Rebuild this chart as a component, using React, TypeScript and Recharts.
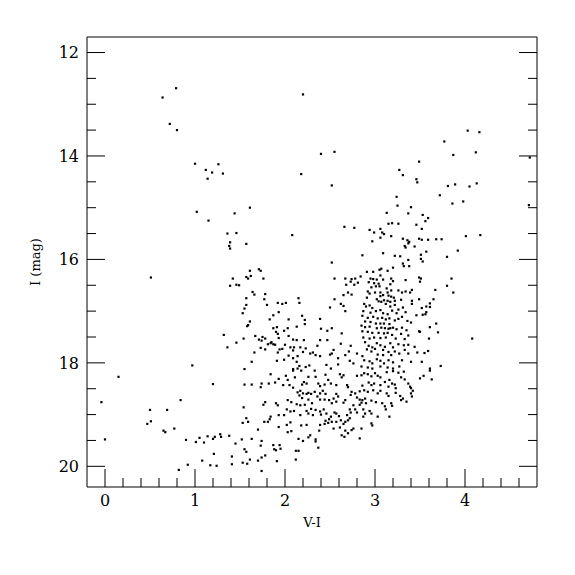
import React from 'react';
import { ScatterChart, Scatter, XAxis, YAxis } from 'recharts';

type P = [number, number];

// V-I, I (mag) pairs, grouped by region
const brightBlue: P[] = [
  [0.79,12.69],[0.64,12.87],[0.72,13.38],[0.80,13.50],[1.00,14.15],[1.26,14.16],[1.12,14.27],[1.19,14.32],[1.31,14.34],[1.14,14.44],
  [1.02,15.08],[1.44,15.11],[1.15,15.25],[1.36,15.50],[1.46,15.49],[1.39,15.67],[1.38,15.74],[1.39,15.79],
];
const brightMid: P[] = [
  [2.20,12.81],[2.40,13.96],[2.55,13.92],[2.18,14.35],[2.52,14.57],[1.61,15.00],[3.13,15.10],[2.66,15.37],[2.77,15.39],[2.94,15.43],
  [3.06,15.41],[2.99,15.48],[3.08,15.48],[3.10,15.51],[3.06,15.58],[2.97,15.65],[2.08,15.53],[1.57,15.70],
];
const brightRed: P[] = [
  [4.03,13.51],[4.16,13.54],[3.77,13.72],[3.87,13.98],[4.12,13.93],[4.72,14.03],[3.49,14.11],[3.27,14.27],[3.31,14.37],[3.46,14.45],
  [3.47,14.51],[3.81,14.58],[3.89,14.55],[4.05,14.59],[4.13,14.53],[3.72,14.76],[3.24,14.79],[3.25,14.96],[3.40,14.99],[3.86,14.92],
  [3.98,14.88],[4.71,14.95],[3.37,15.11],[3.53,15.14],[3.59,15.20],[3.56,15.26],[3.46,15.33],[3.52,15.41],[3.15,15.31],[3.19,15.30],
  [3.26,15.31],[3.18,15.55],[3.31,15.60],[3.36,15.63],[3.38,15.66],[3.37,15.69],[3.33,15.74],[3.34,15.77],[3.44,15.75],[3.49,15.60],
  [3.52,15.62],[3.59,15.62],[3.68,15.61],[3.74,15.61],[4.01,15.55],[4.17,15.53],
];
const faintBlue: P[] = [
  [0.51,16.35],[1.42,16.37],[1.39,16.51],[1.46,16.49],[1.32,17.46],[1.46,17.61],[1.36,17.70],[0.97,18.05],
  [0.15,18.27],[1.20,18.41],[-0.04,18.76],[0.84,18.72],[0.50,18.91],[0.69,18.91],[0.47,19.18],[0.51,19.13],[0.65,19.31],[0.67,19.34],
  [0.77,19.27],[0.00,19.48],[0.90,19.49],[1.01,19.53],[1.05,19.45],[1.10,19.54],[1.14,19.42],[1.20,19.47],[1.22,19.43],[1.28,19.38],
  [1.29,19.43],[1.38,19.41],[1.45,19.56],[1.21,19.76],[1.41,19.81],[1.08,19.89],[0.92,19.97],[1.17,19.98],[1.24,19.99],[1.41,19.96],
  [0.82,20.07],
];
const blueStream: P[] = [
  [1.61,16.22],[1.71,16.19],[1.73,16.22],[1.57,16.34],[1.59,16.37],[1.62,16.32],[1.49,16.50],[1.76,16.37],[1.64,16.63],[1.66,16.68],
  [1.78,16.67],[1.57,16.75],[1.77,16.77],[1.80,16.88],[1.57,16.88],[1.55,16.95],[1.53,17.04],[1.92,16.84],[1.97,16.86],[2.01,16.84],
  [2.15,16.75],[2.16,16.84],[1.93,17.02],[1.87,17.08],[2.19,17.09],[2.04,17.16],[2.22,17.17],[2.39,17.15],[1.83,17.16],[1.61,17.20],
  [1.59,17.27],[1.58,17.29],[2.22,17.25],[2.13,17.30],[1.91,17.31],[1.87,17.33],[2.03,17.33],[2.40,17.34],[2.47,17.38],[1.90,17.40],
  [1.92,17.44],[1.99,17.38],[1.67,17.48],[1.71,17.55],[1.75,17.50],[1.78,17.53],[1.74,17.57],[1.54,17.53],[1.93,17.52],[2.04,17.48],
  [2.09,17.55],[2.13,17.56],[2.21,17.56],[2.39,17.56],[2.47,17.56],[1.84,17.62],[1.81,17.64],[1.87,17.64],[1.85,17.60],[1.89,17.65],
  [2.00,17.65],[1.73,17.71],[1.78,17.74],[1.94,17.74],[1.97,17.73],[2.06,17.70],[2.10,17.70],[2.17,17.70],[2.23,17.72],[2.36,17.67],
  [1.66,17.80],[1.92,17.80],[2.09,17.76],[2.20,17.79],[2.28,17.82],[2.31,17.80],[2.34,17.85],[2.39,17.87],[2.50,17.84],[2.04,17.86],
  [2.14,17.87],[2.09,17.91],[1.99,17.94],[1.91,17.96],[1.63,17.98],[2.13,17.98],[2.16,18.06],[2.23,18.08],[2.27,18.05],[2.09,18.12],
  [2.14,18.11],[1.55,18.12],[2.46,18.04],
];
const giantBranch: P[] = [
  [2.86,15.92],[3.09,15.88],[3.22,15.93],[3.28,15.94],[3.37,16.01],[2.52,16.06],[3.31,16.08],[3.32,16.13],[3.38,16.13],[3.20,16.16],
  [3.07,16.18],[3.05,16.20],[2.91,16.24],[2.98,16.24],[3.14,16.22],[3.06,16.31],[2.84,16.33],[2.55,16.37],[2.67,16.37],[2.74,16.38],
  [2.78,16.37],[2.95,16.37],[2.98,16.38],[3.02,16.39],[3.09,16.39],[3.18,16.37],[3.20,16.42],[3.34,16.40],[3.49,16.35],[3.50,16.43],
  [2.73,16.43],[2.77,16.49],[2.68,16.49],[2.81,16.45],[2.93,16.44],[2.99,16.46],[3.04,16.47],[3.01,16.52],[3.05,16.52],[2.96,16.54],
  [3.17,16.48],[3.13,16.56],[3.18,16.60],[3.26,16.60],[3.30,16.64],[3.34,16.62],[3.39,16.64],[3.41,16.59],[2.70,16.64],[2.74,16.68],
  [2.65,16.69],[2.92,16.62],[2.94,16.66],[3.00,16.64],[3.06,16.64],[3.06,16.71],[3.09,16.69],[3.14,16.64],[3.15,16.70],[3.18,16.72],
  [3.21,16.74],[2.91,16.74],[3.02,16.77],[3.04,16.81],[3.07,16.82],[3.10,16.79],[3.14,16.80],[3.17,16.82],[3.22,16.80],[3.29,16.78],
  [3.41,16.80],[3.49,16.77],[2.55,16.77],[2.62,16.86],[2.65,16.90],[2.88,16.86],[2.90,16.91],[2.94,16.89],[2.97,16.94],[3.12,16.86],
  [3.17,16.91],[3.22,16.88],[3.26,16.97],[3.31,16.93],[3.41,16.86],[2.50,16.93],[2.67,17.00],[2.87,17.00],[2.95,17.03],[3.01,17.00],
  [3.06,16.98],[3.09,17.04],[3.14,17.06],[3.19,16.99],[3.24,17.04],[3.34,17.02],[2.86,17.09],[2.92,17.13],[2.98,17.11],[3.03,17.14],
  [3.08,17.13],[3.12,17.16],[3.16,17.14],[3.22,17.18],[3.26,17.15],[3.30,17.11],[3.46,17.08],[3.36,17.19],[3.40,17.22],[2.89,17.20],
  [2.95,17.21],[3.01,17.24],[3.06,17.24],[3.10,17.24],[3.16,17.25],[2.52,17.33],[2.63,17.43],[2.85,17.28],[2.89,17.31],[2.94,17.30],
  [3.02,17.33],[3.07,17.32],[3.11,17.33],[3.15,17.34],[3.17,17.33],[3.20,17.32],[3.24,17.35],[3.30,17.32],[3.35,17.37],[3.49,17.39],
  [2.86,17.39],[2.92,17.40],[2.97,17.42],[3.04,17.42],[3.10,17.43],[3.14,17.42],[3.19,17.46],[3.29,17.44],[3.37,17.47],[2.87,17.51],
  [2.94,17.53],[2.99,17.51],[3.06,17.52],[3.12,17.51],[3.23,17.53],[3.33,17.54],[2.62,17.63],[2.73,17.67],[2.89,17.60],[2.93,17.67],
  [2.97,17.70],[3.02,17.62],[3.06,17.66],[3.11,17.69],[3.17,17.62],[3.20,17.70],[3.26,17.64],[3.32,17.66],[3.37,17.65],[3.44,17.69],
  [2.54,17.75],[2.52,17.82],[2.59,17.91],[2.67,17.85],[2.71,17.78],[2.80,17.82],[2.86,17.87],[2.91,17.74],[2.96,17.78],[3.00,17.73],
  [3.03,17.84],[3.09,17.75],[3.09,17.85],[3.15,17.79],[3.18,17.85],[3.22,17.78],[3.27,17.82],[3.33,17.75],[3.37,17.82],[3.47,17.80],
  [2.72,17.96],[2.76,18.01],[2.88,17.95],[2.94,17.97],[2.97,18.01],[3.02,17.93],[3.06,17.96],[3.10,18.01],[3.15,17.95],[3.20,17.99],
  [3.30,17.95],[3.40,17.98],[2.85,18.07],[2.92,18.09],[2.97,18.11],[3.06,18.07],[3.14,18.09],[3.20,18.11],[3.27,18.07],[2.59,18.03],
  [2.51,18.11],
];
const redEdge: P[] = [
  [3.57,15.85],[3.92,15.83],[3.80,15.95],[3.51,15.91],[3.51,15.99],[3.53,16.04],[3.51,16.37],[3.85,16.37],[3.80,16.51],[3.67,16.59],
  [3.87,16.64],[3.65,16.77],[3.61,16.85],[3.61,16.92],[3.57,16.91],[3.52,16.94],[3.57,17.02],[3.56,17.06],[3.53,17.07],[3.68,17.24],
  [3.61,17.31],[3.70,17.41],[3.50,17.40],[3.60,17.53],[4.08,17.53],[3.59,17.77],[3.55,17.81],[3.52,17.98],[3.73,18.06],[3.61,18.11],
  [3.50,18.30],[3.54,18.25],[3.63,18.32],[3.61,18.15],
];
const faintMid: P[] = [
  [1.84,18.22],[1.55,18.42],[1.63,18.42],[1.74,18.40],[1.82,18.40],[1.73,18.47],[1.89,18.38],[1.93,18.31],[1.98,18.43],[2.01,18.25],
  [2.03,18.33],[2.05,18.43],[2.09,18.48],[2.11,18.28],[2.14,18.57],[2.17,18.54],[2.16,18.63],[2.20,18.59],[2.19,18.68],[2.24,18.60],
  [2.26,18.58],[2.29,18.60],[2.26,18.71],[2.19,18.42],[2.24,18.40],[2.21,18.37],[2.26,18.27],[2.34,18.27],[2.37,18.40],[2.39,18.45],
  [2.44,18.42],[2.42,18.54],[2.45,18.60],[2.39,18.59],[2.33,18.56],[2.36,18.65],[2.39,18.71],[2.44,18.71],[2.49,18.72],[2.30,18.78],
  [2.22,18.81],[2.17,18.82],[2.13,18.80],[2.07,18.76],[2.03,18.72],[1.78,18.76],[1.76,18.81],[1.90,18.78],[1.92,18.82],[1.54,18.86],
  [2.02,18.90],[2.06,18.94],[2.10,18.93],[2.24,18.93],[2.29,18.89],[2.34,18.91],[2.39,18.94],[2.43,18.90],[2.46,18.98],[2.40,19.00],
  [2.31,19.01],[2.26,18.98],[2.17,19.01],[1.99,19.01],[1.93,19.01],[1.84,19.04],[1.83,19.09],[1.81,19.14],[1.77,19.14],[1.57,19.07],
  [1.59,19.14],[1.53,19.16],[1.93,19.24],[2.02,19.20],[2.06,19.15],[2.07,19.32],[2.03,19.34],[2.18,19.21],[2.24,19.20],[2.39,19.20],
  [2.38,19.31],[2.44,19.18],[2.45,19.12],[2.48,19.16],[2.49,19.09],[2.26,19.44],[2.28,19.40],[2.15,19.47],[2.20,19.51],[2.34,19.48],
  [2.34,19.52],[1.70,19.29],[1.74,19.51],[1.63,19.47],[1.52,19.48],[1.87,19.59],[1.94,19.59],[1.88,19.67],[1.90,19.69],[1.95,19.66],
  [1.73,19.60],[1.55,19.67],[1.57,19.72],[2.12,19.70],[2.15,19.70],[2.37,19.64],[1.78,19.79],[1.74,19.83],[1.70,19.89],[1.61,19.87],
  [1.53,19.93],[1.58,19.95],[1.91,19.90],[2.12,19.87],[1.74,20.09],[2.09,18.15],[2.18,18.15],[2.33,18.15],[2.45,18.23],[2.48,18.33],
];
const faintRed: P[] = [
  [2.61,18.22],[2.65,18.24],[2.63,18.28],[2.57,18.43],[2.51,18.40],[2.69,18.43],[2.70,18.47],[2.80,18.25],[2.85,18.24],[2.88,18.20],
  [2.92,18.22],[2.96,18.26],[3.00,18.20],[3.03,18.25],[3.06,18.28],[3.13,18.18],[3.20,18.16],[3.26,18.19],[3.32,18.17],[3.29,18.28],
  [3.33,18.32],[3.11,18.37],[3.16,18.33],[3.19,18.40],[3.22,18.42],[3.37,18.40],[3.39,18.46],[2.93,18.38],[2.96,18.43],[2.99,18.40],
  [3.06,18.43],[2.86,18.44],[2.78,18.59],[2.74,18.56],[2.73,18.62],[2.83,18.55],[2.88,18.53],[2.92,18.56],[2.98,18.53],[3.03,18.59],
  [3.06,18.54],[3.13,18.59],[3.15,18.64],[3.23,18.58],[3.28,18.64],[3.40,18.59],[3.41,18.65],[2.57,18.60],[2.59,18.65],[2.54,18.69],
  [2.57,18.75],[2.52,18.78],[2.65,18.77],[2.67,18.72],[2.80,18.67],[2.83,18.71],[2.86,18.72],[2.89,18.69],[2.85,18.77],[2.90,18.78],
  [2.83,18.81],[2.96,18.73],[3.01,18.76],[3.08,18.78],[2.76,18.82],[2.72,18.90],[2.78,18.90],[2.80,18.96],[2.73,18.96],[2.69,19.01],
  [2.87,18.90],[2.89,18.98],[2.94,18.93],[2.96,18.98],[2.87,19.04],[2.57,18.98],[2.55,18.96],[2.60,19.03],[2.62,19.11],[2.57,19.14],
  [2.65,19.18],[2.67,19.14],[2.70,19.11],[2.72,19.07],[2.52,19.14],[2.51,19.04],[2.54,19.27],[2.61,19.25],[2.67,19.31],[2.70,19.36],
  [2.74,19.30],[2.63,19.40],[2.66,19.43],[2.76,19.27],[2.85,19.27],[2.83,19.46],[2.96,19.17],[2.97,19.21],[3.03,19.04],[3.16,19.04],
  [3.11,18.84],[3.12,18.90],[3.18,18.78],[3.19,18.83],[3.15,18.46],[3.23,18.49],[3.29,18.72],[3.31,18.69],[3.35,18.75],[3.40,18.49],
  [3.42,18.54],
];

const xMajor = [0, 1, 2, 3, 4];
const yMajor = [12, 14, 16, 18, 20];
const xTicks = [0, 0.2, 0.4, 0.6, 0.8, 1, 1.2, 1.4, 1.6, 1.8, 2, 2.2, 2.4, 2.6, 2.8, 3, 3.2, 3.4, 3.6, 3.8, 4, 4.2, 4.4, 4.6];
const yTicks = [12, 12.5, 13, 13.5, 14, 14.5, 15, 15.5, 16, 16.5, 17, 17.5, 18, 18.5, 19, 19.5, 20];

const points = [
  ...brightBlue, ...brightMid, ...brightRed, ...faintBlue, ...blueStream,
  ...giantBranch, ...redEdge, ...faintMid, ...faintRed,
].map(([vi, imag]) => ({ vi, imag }));

const FONT = '"DejaVu Serif", serif';
const MAJ = 18;
const MIN = 9;
const isMajX = (v: number) => xMajor.some((m) => Math.abs(m - v) < 1e-6);
const isMajY = (v: number) => yMajor.some((m) => Math.abs(m - v) < 1e-6);

const BottomTick = (p: any) => {
  const v = p.payload.value;
  const maj = isMajX(v);
  return (
    <g>
      <line x1={p.x} y1={p.y} x2={p.x} y2={p.y - (maj ? MAJ : MIN)} stroke="#000" />
      {maj && (
        <text x={p.x} y={p.y + 19} textAnchor="middle" fontFamily={FONT} fontSize={16} fill="#000">
          {String(Math.round(v))}
        </text>
      )}
    </g>
  );
};
const TopTick = (p: any) => {
  const maj = isMajX(p.payload.value);
  return <line x1={p.x} y1={p.y} x2={p.x} y2={p.y + (maj ? MAJ : MIN)} stroke="#000" />;
};
const LeftTick = (p: any) => {
  const v = p.payload.value;
  const maj = isMajY(v);
  return (
    <g>
      <line x1={p.x} y1={p.y} x2={p.x + (maj ? MAJ : MIN)} y2={p.y} stroke="#000" />
      {maj && (
        <text x={p.x - 8} y={p.y} dy="0.36em" textAnchor="end" fontFamily={FONT} fontSize={16} fill="#000">
          {String(Math.round(v))}
        </text>
      )}
    </g>
  );
};
const RightTick = (p: any) => {
  const maj = isMajY(p.payload.value);
  return <line x1={p.x} y1={p.y} x2={p.x - (maj ? MAJ : MIN)} y2={p.y} stroke="#000" />;
};

const Dot = (p: any) => <rect x={p.cx - 1.1} y={p.cy - 1.1} width={2.2} height={2.2} fill="#000" />;

const YTitle = (p: any) => {
  const vb = p.viewBox;
  const cx = vb.x + 8;
  const cy = vb.y + vb.height / 2;
  return (
    <text x={cx} y={cy} transform={`rotate(-90, ${cx}, ${cy})`} textAnchor="middle" dominantBaseline="central"
      fontFamily={FONT} fontSize={13} fill="#000">
      I (mag)
    </text>
  );
};

export default function App() {
  return (
    <ScatterChart width={560} height={560} margin={{ top: 19, right: 21, bottom: 31, left: 19 }}>
      <XAxis xAxisId="b" type="number" dataKey="vi" domain={[-0.2, 4.8]} allowDataOverflow ticks={xTicks}
        interval={0} tickSize={0} tickMargin={0} tickLine={false} tick={BottomTick} height={50}
        axisLine={{ stroke: '#000' }}
        label={{ value: 'V-I', position: 'insideBottom', offset: 10, style: { fontFamily: FONT, fontSize: 13, fill: '#000' } }} />
      <XAxis xAxisId="t" orientation="top" type="number" domain={[-0.2, 4.8]} allowDataOverflow ticks={xTicks}
        interval={0} tickSize={0} tickMargin={0} tickLine={false} tick={TopTick} height={10}
        axisLine={{ stroke: '#000' }} />
      <YAxis yAxisId="l" type="number" dataKey="imag" domain={[11.7, 20.4]} reversed allowDataOverflow ticks={yTicks}
        interval={0} tickSize={0} tickMargin={0} tickLine={false} tick={LeftTick} width={60}
        axisLine={{ stroke: '#000' }} label={{ content: YTitle }} />
      <YAxis yAxisId="r" orientation="right" type="number" domain={[11.7, 20.4]} reversed allowDataOverflow ticks={yTicks}
        interval={0} tickSize={0} tickMargin={0} tickLine={false} tick={RightTick} width={10}
        axisLine={{ stroke: '#000' }} />
      <Scatter data={points} xAxisId="b" yAxisId="l" isAnimationActive={false} shape={Dot} />
    </ScatterChart>
  );
}
